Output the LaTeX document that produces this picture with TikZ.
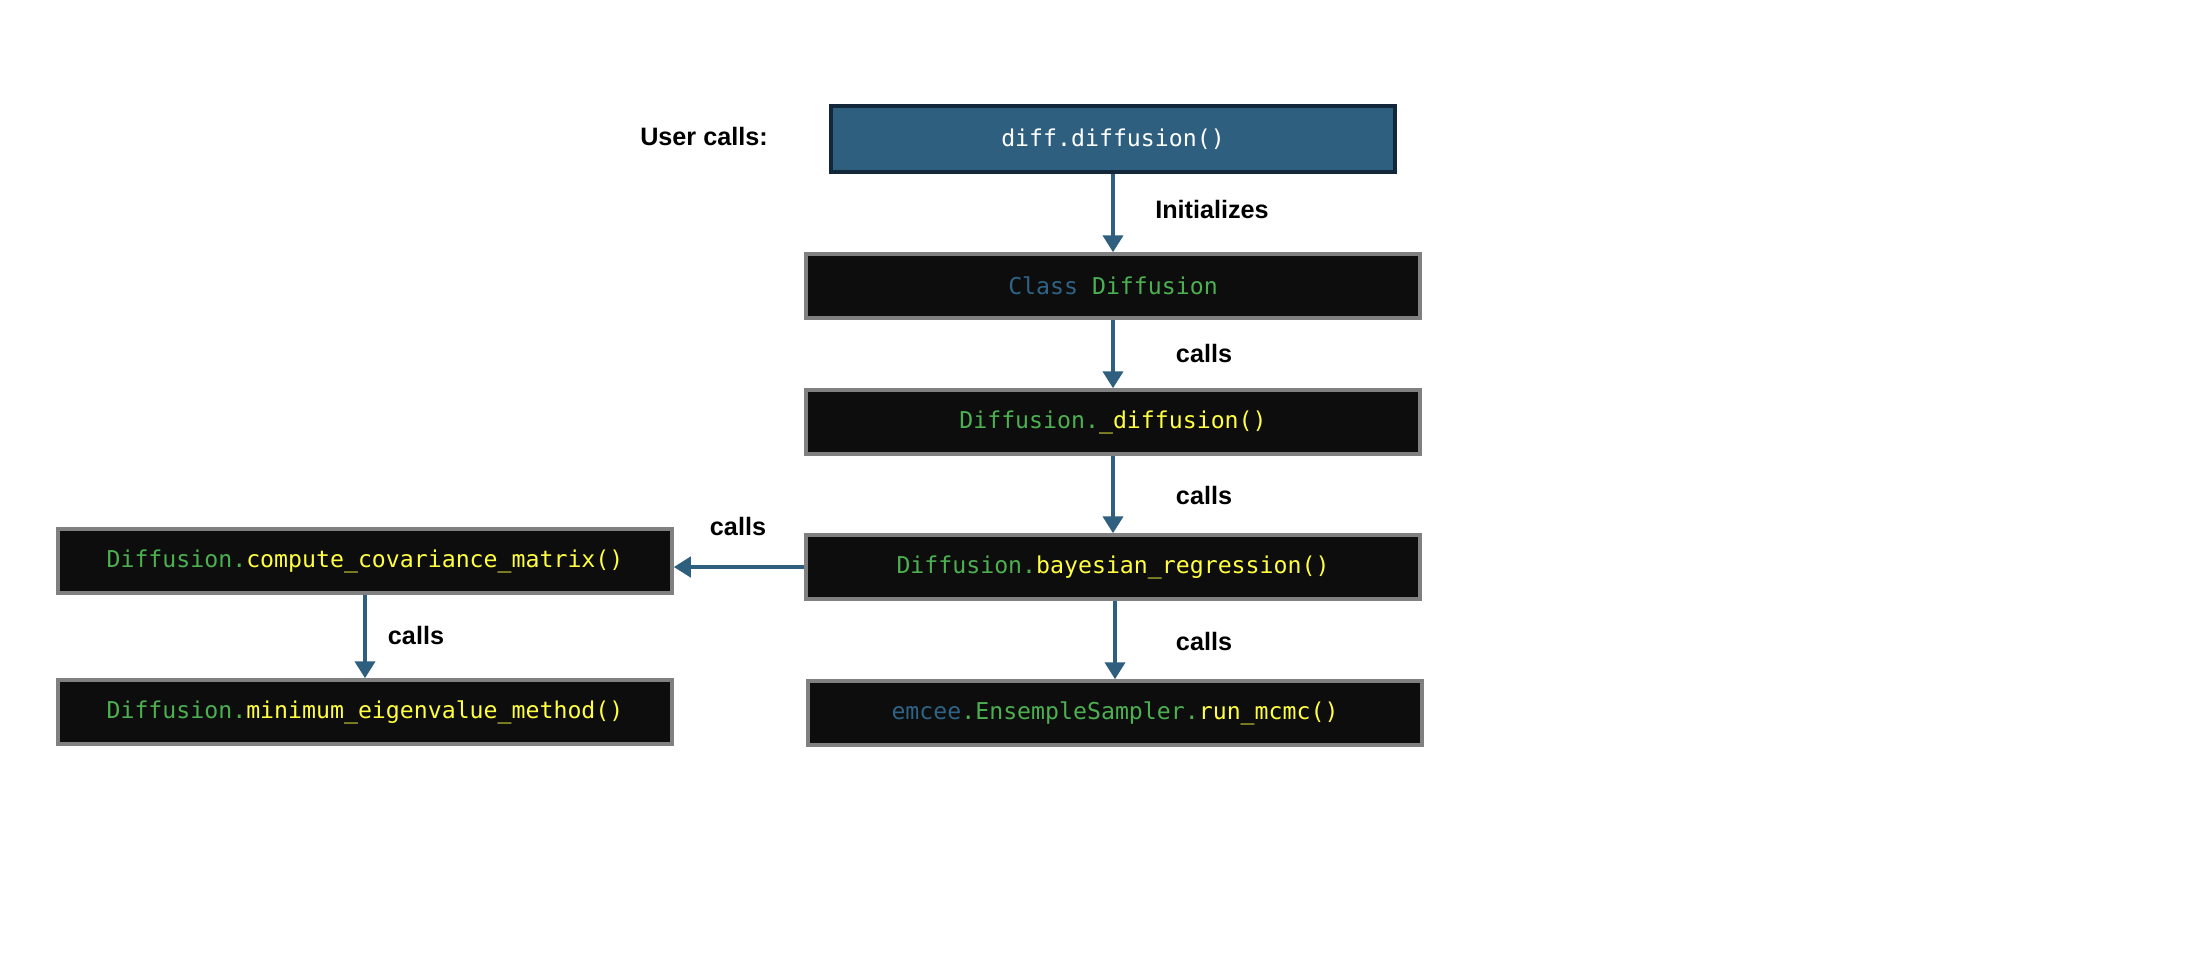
\documentclass[tikz,border=0pt]{standalone}
\usepackage{fontspec}
\setmainfont{Liberation Sans}
\setmonofont{DejaVu Sans Mono}
\usetikzlibrary{arrows.meta}
\definecolor{boxblue}{HTML}{2E5F7F}
\definecolor{boxdark}{HTML}{12283A}
\definecolor{boxfill}{HTML}{0D0D0D}
\definecolor{boxgray}{HTML}{808080}
\definecolor{cgreen}{HTML}{4CAF50}
\definecolor{cyellow}{HTML}{FFFF40}
\definecolor{cblue}{HTML}{2E6385}
\begin{document}
\begin{tikzpicture}[x=0.5pt,y=-0.5pt,
  codebox/.style={draw=boxgray,line width=1.75pt,fill=boxfill,minimum width=307pt,minimum height=32pt,inner sep=0pt,font=\fontsize{11.6}{13}\selectfont\ttfamily},
  topbox/.style={draw=boxdark,line width=2pt,fill=boxblue,minimum width=282pt,minimum height=33pt,inner sep=0pt,text=white,font=\fontsize{11.6}{13}\selectfont\ttfamily},
  lbl/.style={font=\fontsize{12.6}{14}\selectfont\bfseries,inner sep=0pt},
  conn/.style={draw=boxblue,line width=2pt,-{Triangle[width=10pt,length=8.5pt]}}]
\path[use as bounding box,fill=white] (0,0) rectangle (2204,954);
\node[topbox] (top) at (1113,139) {diff.diffusion()};
\node[codebox] (cls) at (1113,286) {\textcolor{cblue}{Class} \textcolor{cgreen}{Diffusion}};
\node[codebox] (dif) at (1113,422) {\textcolor{cgreen}{Diffusion.}\textcolor{cyellow}{\_diffusion()}};
\node[codebox] (bay) at (1113,567) {\textcolor{cgreen}{Diffusion.}\textcolor{cyellow}{bayesian\_regression()}};
\node[codebox] (emc) at (1115,713) {\textcolor{cblue}{emcee}\textcolor{cgreen}{.EnsempleSampler.}\textcolor{cyellow}{run\_mcmc()}};
\node[codebox] (cov) at (365,561) {\textcolor{cgreen}{Diffusion.}\textcolor{cyellow}{compute\_covariance\_matrix()}};
\node[codebox] (eig) at (365,712) {\textcolor{cgreen}{Diffusion.}\textcolor{cyellow}{minimum\_eigenvalue\_method()}};
\node[lbl] (user) at (704,136) {User calls:};
\node[lbl] (l1) at (1212,209) {Initializes};
\node[lbl] (l2) at (1204,353) {calls};
\node[lbl] (l3) at (1204,495) {calls};
\node[lbl] (l4) at (1204,641) {calls};
\node[lbl] (l5) at (738,526) {calls};
\node[lbl] (l6) at (416,635) {calls};
\draw[conn] (top.south) -- (cls.north);
\draw[conn] (cls.south) -- (dif.north);
\draw[conn] (dif.south) -- (bay.north);
\draw[conn] (bay.south -| emc.north) -- (emc.north);
\draw[conn] (bay.west) -- (bay.west -| cov.east);
\draw[conn] (cov.south) -- (eig.north);
\end{tikzpicture}
\end{document}
